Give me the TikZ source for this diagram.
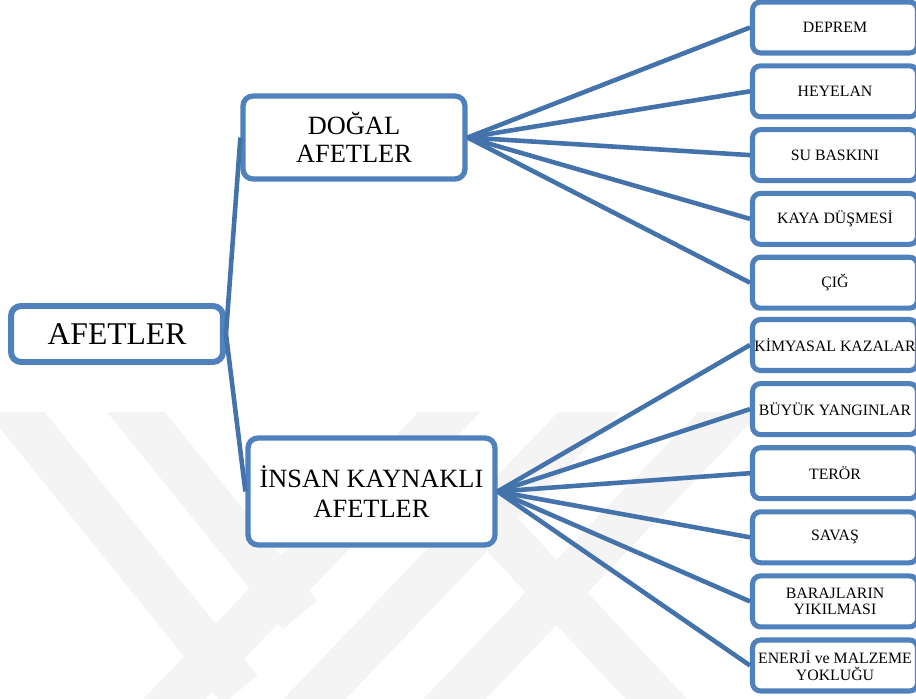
\documentclass[tikz,border=0pt]{standalone}
\usepackage{fontspec}
\setmainfont{Liberation Serif}
\usetikzlibrary{positioning}
\definecolor{boxblue}{HTML}{4F81BD}
\definecolor{lineblue}{HTML}{4472AA}
\definecolor{wmgray}{HTML}{F4F4F4}
\begin{document}
\begin{tikzpicture}
  [
  x=0.02cm, y=-0.02cm,
  rootbox/.style={rectangle, minimum width=4.24cm, minimum height=1.12cm, draw=boxblue, line width=3.4pt, fill=white, rounded corners=0.2cm, inner sep=0pt, font=\fontsize{18}{20}\selectfont},
  branch/.style={rectangle, draw=boxblue, line width=3pt, fill=white, rounded corners=0.2cm, inner sep=0pt, align=center},
  leaf/.style={rectangle, minimum width=3.3cm, minimum height=1.02cm, draw=boxblue, line width=2.9pt, fill=white, rounded corners=0.16cm, inner sep=0pt, align=center, font=\fontsize{9}{9.5}\selectfont},
  link/.style={draw=lineblue, line width=2.6pt},
  wmark/.style={draw=wmgray, line width=0.9cm}
  ]
\useasboundingbox (0,0) rectangle (916,699);
\clip (0,0) rectangle (916,699);

% faint background watermark
\begin{scope}
\clip (0,412) rectangle (916,699);
\foreach \a/\b in {{-10,380}/{240,690}, {110,380}/{300,615}, {480,380}/{140,735}, {620,380}/{280,735}, {760,380}/{420,735}, {470,500}/{690,735}} {
  \draw[wmark] (\a) -- (\b);
}
\end{scope}

\node[rootbox] (afet) at (117,334) {AFETLER};
\node[branch, minimum width=4.44cm, minimum height=1.66cm, font=\fontsize{15}{16}\selectfont] (dogal) at (354,137.5) {DOĞAL\\AFETLER};
\node[branch, minimum width=4.94cm, minimum height=2.14cm, font=\fontsize{15}{17}\selectfont] (insan) at (371.5,491.5) {İNSAN KAYNAKLI\\AFETLER};

\draw[link] (afet.east) -- (dogal.west);
\draw[link] (afet.east) -- (insan.west);

\foreach \t [count=\i] in {DEPREM, HEYELAN, SU BASKINI, KAYA DÜŞMESİ, ÇIĞ} {
  \node[leaf] (d\i) at (835,27.5+63.8*\i-63.8) {\t};
  \draw[link] (dogal.east) -- (d\i.west);
}

\foreach \t [count=\i] in {KİMYASAL KAZALAR, BÜYÜK YANGINLAR, TERÖR, SAVAŞ, {BARAJLARIN\\YIKILMASI}, {ENERJİ ve MALZEME\\YOKLUĞU}} {
  \node[leaf] (i\i) at (835,345+64.1*\i-64.1) {\t};
  \draw[link] (insan.east) -- (i\i.west);
}

\end{tikzpicture}
\end{document}
